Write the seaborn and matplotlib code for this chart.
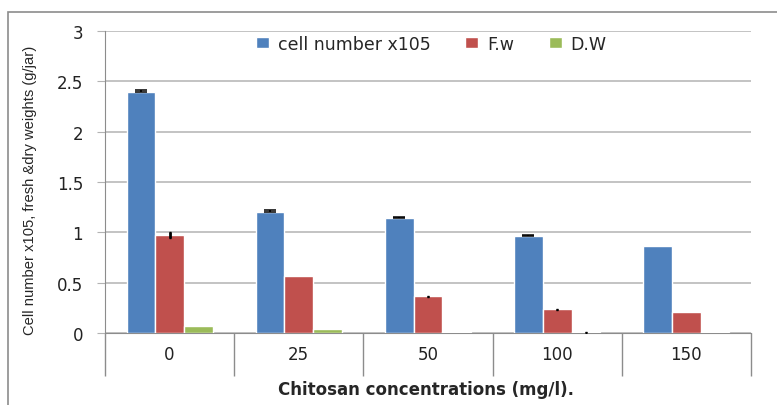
import pandas as pd
import numpy as np
import matplotlib.pyplot as plt
import seaborn as sns
from matplotlib.patches import Rectangle

# values
concentrations = ["0", "25", "50", "100", "150"]
series_names = ["cell number x105", "F.w", "D.W"]
cell_number = [2.39, 1.20, 1.145, 0.965, 0.865]
fresh_weight = [0.97, 0.57, 0.365, 0.235, 0.205]
dry_weight = [0.065, 0.04, 0.01, 0.006, 0.005]
cell_err = [0.02, 0.02, 0.01, 0.01, 0.0]
fresh_err = [0.03, 0.0, 0.004, 0.004, 0.0]
dry_err = [0.0, 0.0, 0.0, 0.004, 0.0]

colors = ["#4F81BD", "#C0504D", "#9BBB59"]

df = pd.DataFrame({
    "conc": concentrations * 3,
    "series": np.repeat(series_names, len(concentrations)),
    "value": cell_number + fresh_weight + dry_weight,
})
errors = [cell_err, fresh_err, dry_err]

sns.set_style("white")
plt.rcParams["font.family"] = ["DejaVu Sans"]

fig = plt.figure(figsize=(7.77, 4.06), dpi=100)
ax = fig.add_axes([105 / 777, 72 / 406, 646 / 777, 302 / 406])

# outer chart border
fig.patches.append(Rectangle((8 / 777, -0.1), 1.2, (406 - 13) / 406 + 0.1,
                             transform=fig.transFigure, fill=False,
                             edgecolor="#8c8c8c", linewidth=1.2, zorder=0))

sns.barplot(data=df, x="conc", y="value", hue="series", order=concentrations,
            hue_order=series_names, palette=colors, errorbar=None,
            width=0.667, saturation=1, ax=ax, zorder=3)

# error bars on the bars seaborn drew: cell number only upwards with cap
for i, (cont, err) in enumerate(zip(ax.containers, errors)):
    for bar, e in zip(cont, err):
        if e <= 0:
            continue
        xc = bar.get_x() + bar.get_width() / 2
        if i == 0:
            ax.errorbar(xc, bar.get_height(), yerr=[[0], [e]], fmt="none",
                        ecolor="black", elinewidth=1.2, capsize=4, capthick=1.1, zorder=4)
        else:
            ax.errorbar(xc, bar.get_height(), yerr=e, fmt="none",
                        ecolor="black", elinewidth=2, capsize=1, capthick=1, zorder=4)

ax.set_ylim(0, 3)
ax.set_xlim(-0.5, 4.5)
ax.set_yticks(np.arange(0, 3.01, 0.5))
ax.set_yticklabels(["0", "0.5", "1", "1.5", "2", "2.5", "3"])
ax.yaxis.grid(True, color="#b3b3b3", linewidth=1.1, zorder=0)
ax.set_axisbelow(True)

for s in ["top", "right"]:
    ax.spines[s].set_visible(False)
ax.spines["left"].set_color("#8c8c8c")
ax.spines["bottom"].set_color("#8c8c8c")

ax.tick_params(axis="y", left=True, length=5.8, color="#b3b3b3", pad=10, labelsize=12,
               labelcolor="#222222")
ax.tick_params(axis="x", bottom=False, length=0, labelsize=12, pad=9, labelcolor="#222222")
ax.set_xticks(np.arange(-0.5, 4.6, 1), minor=True)
ax.tick_params(axis="x", which="minor", bottom=True, length=31, color="#8c8c8c", width=1)

ax.set_xlabel("Chitosan concentrations (mg/l).", fontsize=12, fontweight="bold")
ax.xaxis.set_label_coords(0.497, -0.156)
ax.set_ylabel("Cell number x105, fresh &dry weights (g/jar)",
              family=["Liberation Sans", "DejaVu Sans"], fontsize=10.6)
ax.yaxis.set_label_coords(-0.106, 0.477)

ax.legend(loc="center", bbox_to_anchor=(0.505, 0.957), ncol=3, frameon=False,
          fontsize=12.5, handlelength=0.75, handleheight=0.6, handletextpad=0.5,
          columnspacing=2.0)

plt.savefig("out.png", dpi=100)
